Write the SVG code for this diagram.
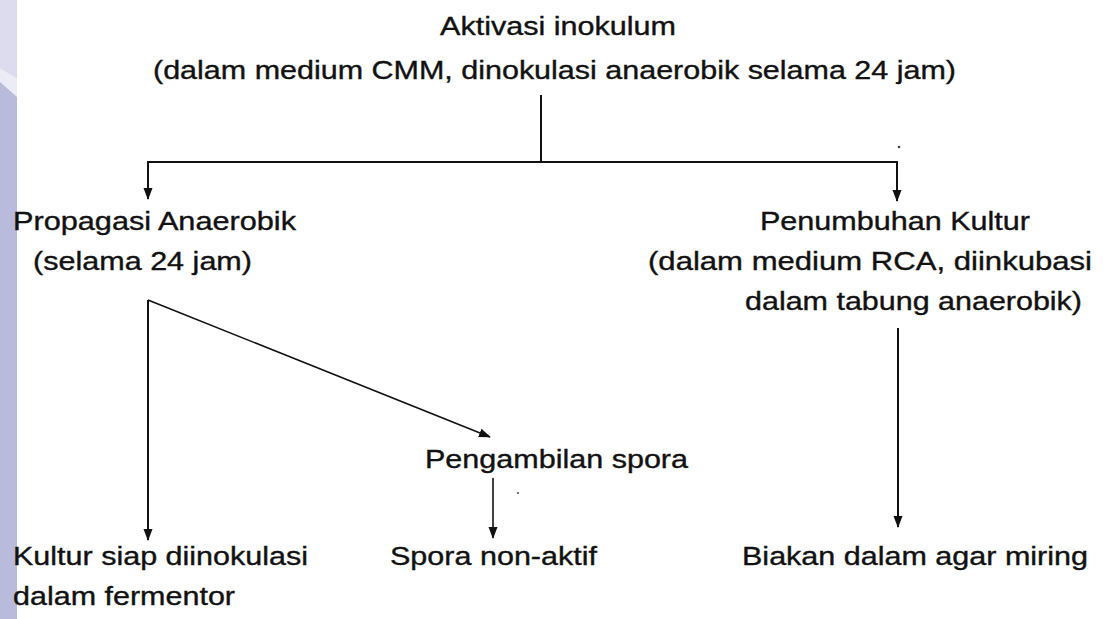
<svg xmlns="http://www.w3.org/2000/svg" width="1104" height="619" viewBox="0 0 1104 619">
  <style>
    .t { font-family: "Liberation Sans", Arial, sans-serif; font-size: 25px; fill: #111; stroke: #111; stroke-width: 0.35px; }
    .c { stroke: #111; stroke-width: 2; fill: none; }
    .d { stroke: #111; stroke-width: 1.6; fill: none; }
    .speck { fill: #444; }
  </style>
  <defs>
    <marker id="ah" markerUnits="userSpaceOnUse" markerWidth="12" markerHeight="12" viewBox="0 0 12 12" refX="11" refY="6" orient="auto">
      <path d="M0,1.5 L12,6 L0,10.5 Z" fill="#111"/>
    </marker>
  </defs>
  <rect x="0" y="0" width="1104" height="619" fill="#ffffff"/>
  <g id="strip">
    <rect x="0" y="0" width="17" height="619" fill="#b8bbdc"/>
    <polygon points="0,0 17,0 17,78 0,68" fill="#dcdcee"/>
    <polygon points="0,68 17,78 17,97 0,82" fill="#ececf6"/>
  </g>
  <g id="connectors">
    <line class="c" x1="541" y1="95" x2="541" y2="162"/>
    <line class="c" x1="147" y1="162" x2="898" y2="162"/>
    <line class="c" x1="148" y1="162" x2="148" y2="199" marker-end="url(#ah)"/>
    <line class="c" x1="897" y1="162" x2="897" y2="201" marker-end="url(#ah)"/>
    <line class="c" x1="148" y1="300" x2="148" y2="540" marker-end="url(#ah)"/>
    <line class="d" x1="148" y1="300" x2="490" y2="437" marker-end="url(#ah)"/>
    <line class="d" x1="493" y1="478" x2="493" y2="538" marker-end="url(#ah)"/>
    <line class="c" x1="898" y1="328" x2="898" y2="527" marker-end="url(#ah)"/>
  </g>
  <g id="node-aktivasi">
    <text class="t" x="440" y="35" textLength="236" lengthAdjust="spacingAndGlyphs">Aktivasi inokulum</text>
    <text class="t" x="153" y="79" textLength="803" lengthAdjust="spacingAndGlyphs">(dalam medium CMM, dinokulasi anaerobik selama 24 jam)</text>
  </g>
  <g id="node-propagasi">
    <text class="t" x="13" y="230" textLength="283" lengthAdjust="spacingAndGlyphs">Propagasi Anaerobik</text>
    <text class="t" x="33" y="270" textLength="219" lengthAdjust="spacingAndGlyphs">(selama 24 jam)</text>
  </g>
  <g id="node-penumbuhan">
    <text class="t" x="760" y="230" textLength="270" lengthAdjust="spacingAndGlyphs">Penumbuhan Kultur</text>
    <text class="t" x="648" y="270" textLength="444" lengthAdjust="spacingAndGlyphs">(dalam medium RCA, diinkubasi</text>
    <text class="t" x="745" y="310" textLength="337" lengthAdjust="spacingAndGlyphs">dalam tabung anaerobik)</text>
  </g>
  <g id="node-pengambilan">
    <text class="t" x="425" y="468" textLength="263" lengthAdjust="spacingAndGlyphs">Pengambilan spora</text>
  </g>
  <g id="node-kultur">
    <text class="t" x="13" y="565" textLength="295" lengthAdjust="spacingAndGlyphs">Kultur siap diinokulasi</text>
    <text class="t" x="13" y="605" textLength="222" lengthAdjust="spacingAndGlyphs">dalam fermentor</text>
  </g>
  <g id="node-spora">
    <text class="t" x="390" y="565" textLength="207" lengthAdjust="spacingAndGlyphs">Spora non-aktif</text>
  </g>
  <g id="node-biakan">
    <text class="t" x="742" y="565" textLength="346" lengthAdjust="spacingAndGlyphs">Biakan dalam agar miring</text>
  </g>
  <circle class="speck" cx="899" cy="147" r="1.3"/>
  <circle class="speck" cx="518" cy="493" r="1"/>
</svg>
